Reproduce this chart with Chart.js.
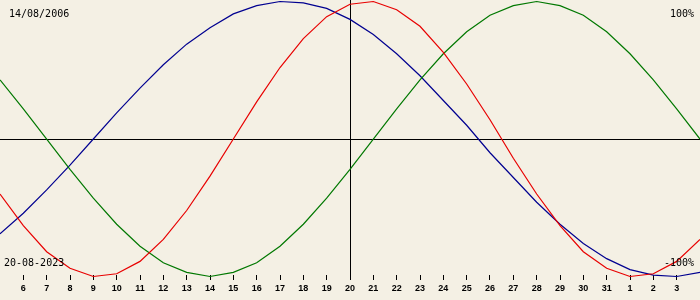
<!DOCTYPE html>
<html>
<head>
<meta charset="utf-8">
<script src="https://cdn.jsdelivr.net/npm/chart.js@4.4.0/dist/chart.umd.min.js"></script>
<style>
  body { margin: 0; background: #f4f0e4; }
  #wrap { position: relative; width: 700px; height: 300px; }
  .lbl {
    position: absolute;
    font-family: 'DejaVu Sans Mono', monospace;
    font-size: 10px;
    color: #000;
    line-height: 12px;
  }
</style>
</head>
<body>
<div id="wrap">
  <canvas id="bio" width="700" height="300"></canvas>
  <div class="lbl" style="left:9px; top:8px;">14/08/2006</div>
  <div class="lbl" style="right:6px; top:8px;">100%</div>
  <div class="lbl" style="left:4px; top:257px;">20-08-2023</div>
  <div class="lbl" style="right:6px; top:257px;">-100%</div>
</div>
<script>
// days of august 5..35 (32 = 1 sept)
const days = [5, 6, 7, 8, 9, 10, 11, 12, 13, 14, 15, 16, 17, 18, 19, 20,
  21, 22, 23, 24, 25, 26, 27, 28, 29, 30, 31, 32, 33, 34, 35];
const tickDays = [6, 7, 8, 9, 10, 11, 12, 13, 14, 15, 16, 17, 18, 19, 20,
  21, 22, 23, 24, 25, 26, 27, 28, 29, 30, 31, 32, 33, 34];
const today = 20;

// percent values, one per day
const physical = [-40, -63, -82, -94, -100, -98, -89, -73, -52, -27, 0, 27, 52, 73, 89, 98,
  100, 94, 82, 63, 40, 14, -14, -40, -63, -82, -94, -100, -98, -89, -73];
const emotional = [43, 22, 0, -22, -43, -62, -78, -90, -97, -100, -97, -90, -78, -62, -43, -22,
  0, 22, 43, 62, 78, 90, 97, 100, 97, 90, 78, 62, 43, 22, 0];
const intellectual = [-69, -54, -37, -19, 0, 19, 37, 54, 69, 81, 91, 97, 100, 99, 95, 87,
  76, 62, 46, 28, 10, -10, -28, -46, -62, -76, -87, -95, -99, -100, -97];

function pts(vals) {
  return days.map((d, i) => ({ x: d, y: vals[i] }));
}

function dayLabel(v) {
  return v > 31 ? String(v - 31) : String(v);
}

new Chart(document.getElementById('bio'), {
  type: 'line',
  data: {
    datasets: [
      { data: pts(physical), borderColor: '#e80000' },
      { data: pts(emotional), borderColor: '#007800' },
      { data: pts(intellectual), borderColor: '#000090' },
    ],
  },
  options: {
    responsive: false,
    animation: false,
    events: [],
    layout: { padding: 0 },
    elements: {
      line: { borderWidth: 1.2, tension: 0, fill: false },
      point: { radius: 0 },
    },
    datasets: { line: { clip: false } },
    plugins: {
      legend: { display: false },
      tooltip: { enabled: false },
    },
    scales: {
      x: {
        type: 'linear',
        min: 5,
        max: 35,
        border: { display: false },
        afterBuildTicks: scale => {
          scale.ticks = tickDays.map(v => ({ value: v }));
        },
        afterFit: scale => {
          scale.height = 25;
        },
        grid: {
          drawOnChartArea: true,
          color: ctx => (ctx.tick && ctx.tick.value === today ? '#000' : 'rgba(0,0,0,0)'),
          tickColor: '#000',
          tickLength: 5,
          lineWidth: 1,
        },
        ticks: {
          autoSkip: false,
          maxRotation: 0,
          padding: 3,
          color: '#000',
          font: { family: 'Liberation Sans', size: 9, weight: 'bold' },
          callback: v => dayLabel(v),
        },
      },
      y: {
        min: -98.9,
        max: 101.1,
        border: { display: false },
        afterBuildTicks: scale => {
          scale.ticks = [{ value: 0 }];
        },
        afterFit: scale => {
          scale.width = 0;
        },
        grid: {
          drawTicks: false,
          color: ctx => (ctx.tick && ctx.tick.value === 0 ? '#000' : 'rgba(0,0,0,0)'),
          lineWidth: 1,
        },
        ticks: { display: false },
      },
    },
  },
});
</script>
</body>
</html>
